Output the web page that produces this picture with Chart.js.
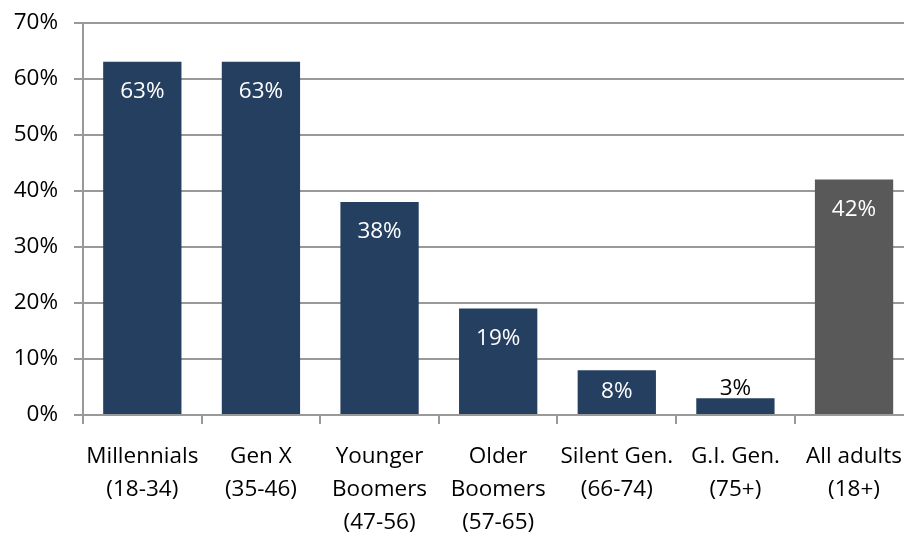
<!DOCTYPE html>
<html><head><meta charset="utf-8">
<script src="https://cdn.jsdelivr.net/npm/chart.js@4"></script>
<style>
html,body{margin:0;padding:0;background:#fff;overflow:hidden;}
#wrap{width:918px;height:544px;position:absolute;left:0;top:-7px;}
</style></head>
<body>
<div id="wrap"><canvas id="c"></canvas></div>
<script>
const categories = [
  ["Millennials","(18-34)"],
  ["Gen X","(35-46)"],
  ["Younger","Boomers","(47-56)"],
  ["Older","Boomers","(57-65)"],
  ["Silent Gen.","(66-74)"],
  ["G.I. Gen.","(75+)"],
  ["All adults","(18+)"]
];
const values = [63, 63, 38, 19, 8, 3, 42];
const barColors = ["#243F60","#243F60","#243F60","#243F60","#243F60","#243F60","#595959"];
const yTicks = [0,10,20,30,40,50,60,70];

const FONT = "'Open Sans', sans-serif";
const GRID = "#999999";
const FS = 22.5;

const labelPlugin = {
  id: 'barLabels',
  afterDatasetsDraw(chart) {
    const ctx = chart.ctx;
    const meta = chart.getDatasetMeta(0);
    ctx.save();
    ctx.font = FS + "px " + FONT;
    ctx.textAlign = 'center';
    ctx.textBaseline = 'middle';
    meta.data.forEach((bar, i) => {
      const v = values[i];
      const h = bar.base - bar.y;
      let y, color;
      if (h > 60) { y = bar.y + 30; color = '#ffffff'; }
      else if (h > 30) { y = (bar.y + bar.base) / 2; color = '#ffffff'; }
      else { y = bar.y - 10; color = '#000000'; }
      ctx.fillStyle = color;
      ctx.fillText(v + '%', bar.x, y);
    });
    ctx.restore();
  }
};

new Chart(document.getElementById('c'), {
  type: 'bar',
  data: {
    labels: categories,
    datasets: [{
      data: values,
      backgroundColor: barColors,
      borderWidth: 0,
      categoryPercentage: 1,
      barPercentage: 0.66
    }]
  },
  options: {
    responsive: true,
    maintainAspectRatio: false,
    animation: false,
    layout: { padding: { top: 13, left: 0, right: 0, bottom: 0 } },
    plugins: { legend: { display: false }, tooltip: { enabled: false } },
    scales: {
      x: {
        grid: { display: true, drawOnChartArea: false, drawTicks: true, tickLength: 9, offset: true, color: GRID, lineWidth: 2 },
        border: { display: true, color: GRID, width: 2 },
        ticks: { color: '#000', font: { family: FONT, size: FS, lineHeight: 33 / FS }, padding: 16, maxRotation: 0, autoSkip: false },
        afterFit(scale) { scale.height = 122; }
      },
      y: {
        min: 0, max: 70,
        afterBuildTicks(scale) { scale.ticks = yTicks.map(v => ({ value: v })); },
        grid: { color: GRID, lineWidth: 2, tickLength: 9, drawTicks: true },
        border: { display: true, color: GRID, width: 2 },
        ticks: { color: '#000', font: { family: FONT, size: FS }, padding: 16, callback: v => v + '%' },
        afterFit(scale) { scale.width = 83; }
      }
    }
  },
  plugins: [labelPlugin]
});
</script>
</body></html>
